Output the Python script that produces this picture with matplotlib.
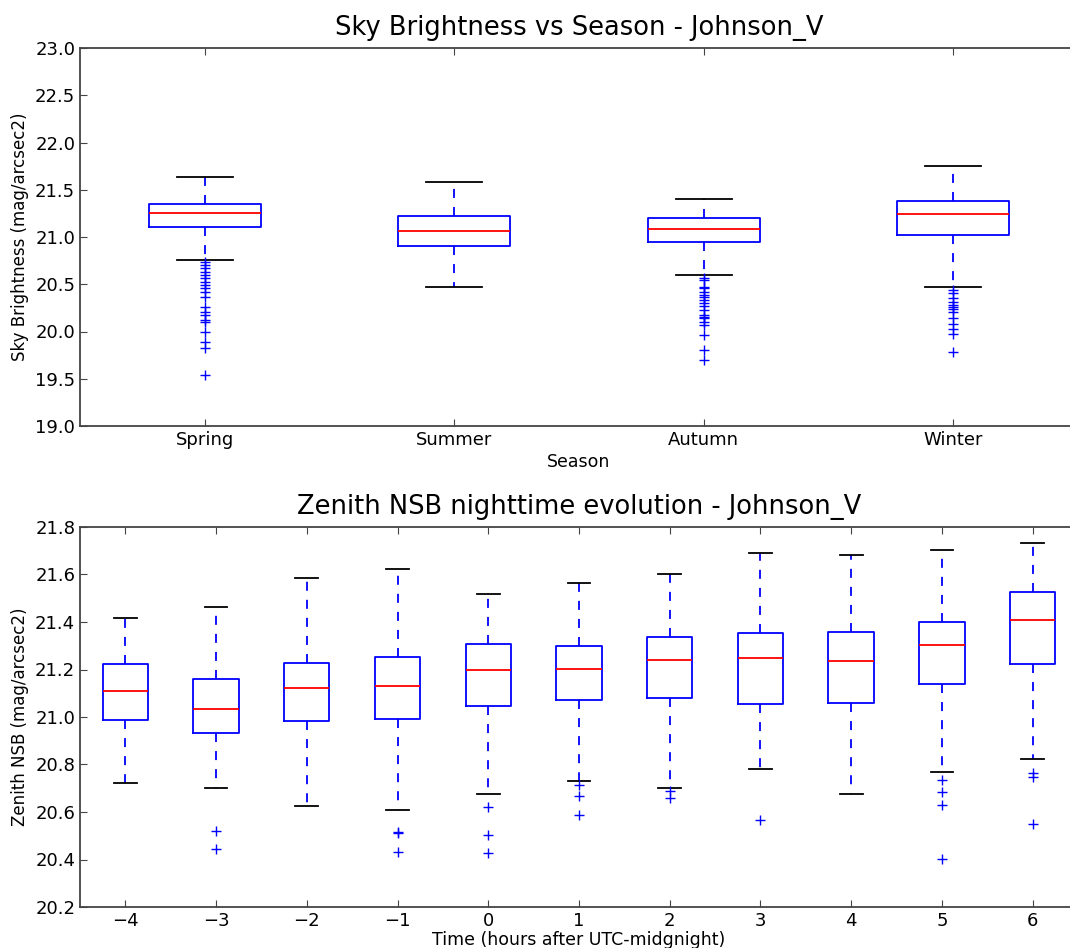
import matplotlib
matplotlib.use("Agg")
import matplotlib.pyplot as plt

# season panel
seasons = ["Spring", "Summer", "Autumn", "Winter"]
s_lo = [20.757, 20.471, 20.598, 20.474]
s_q1 = [21.106, 20.905, 20.950, 21.018]
s_med = [21.254, 21.063, 21.085, 21.243]
s_q3 = [21.350, 21.222, 21.198, 21.385]
s_hi = [21.635, 21.582, 21.402, 21.748]
s_out = [
    [20.739, 20.704, 20.672, 20.633, 20.598, 20.566, 20.527, 20.492, 20.460,
     20.421, 20.368, 20.262, 20.210, 20.175, 20.122, 20.104, 19.998, 19.892,
     19.822, 19.540],
    [],
    [20.569, 20.545, 20.474, 20.457, 20.421, 20.386, 20.368, 20.333, 20.298,
     20.270, 20.228, 20.175, 20.157, 20.140, 20.104, 20.069, 19.963, 19.804,
     19.698],
    [20.439, 20.404, 20.351, 20.316, 20.280, 20.263, 20.235, 20.210, 20.140,
     20.079, 20.026, 19.974, 19.780],
]

# hour panel
hours = [-4, -3, -2, -1, 0, 1, 2, 3, 4, 5, 6]
h_lo = [20.721, 20.702, 20.625, 20.608, 20.676, 20.731, 20.702, 20.780, 20.676, 20.767, 20.824]
h_q1 = [20.987, 20.934, 20.983, 20.993, 21.048, 21.070, 21.079, 21.056, 21.060, 21.138, 21.223]
h_med = [21.111, 21.034, 21.123, 21.132, 21.197, 21.202, 21.241, 21.247, 21.237, 21.305, 21.408]
h_q3 = [21.223, 21.160, 21.226, 21.254, 21.309, 21.300, 21.336, 21.355, 21.359, 21.400, 21.525]
h_hi = [21.418, 21.463, 21.584, 21.622, 21.518, 21.563, 21.604, 21.689, 21.681, 21.703, 21.734]
h_out = [
    [],
    [20.521, 20.444],
    [],
    [20.517, 20.510, 20.430],
    [20.621, 20.503, 20.426],
    [20.714, 20.669, 20.587],
    [20.690, 20.658],
    [20.566],
    [],
    [20.735, 20.684, 20.629, 20.401],
    [20.763, 20.746, 20.548],
]


def make_stats(lo, q1, med, q3, hi, out):
    return [dict(whislo=a, q1=b, med=c, q3=d, whishi=e, fliers=f)
            for a, b, c, d, e, f in zip(lo, q1, med, q3, hi, out)]


def draw(ax, stats, w):
    ax.bxp(stats, widths=w, showfliers=True,
           boxprops=dict(color="blue", lw=1.3),
           whiskerprops=dict(color="blue", lw=1.3, linestyle=(0, (5, 5))),
           capprops=dict(color="black", lw=1.3),
           medianprops=dict(color="red", lw=1.3),
           flierprops=dict(marker="+", markeredgecolor="blue", markersize=7,
                           markeredgewidth=1.0, linestyle="none"))
    ax.tick_params(direction="in", top=True, right=True, labelsize=13,
                   length=5, color="#444444")
    for sp in ax.spines.values():
        sp.set_color("#444444")
        sp.set_linewidth(1.3)


fig = plt.figure(figsize=(10.70, 9.48), dpi=100)
W, H = 1070.0, 948.0

ax1 = fig.add_axes([80 / W, 1 - 426 / H, 998 / W, 378 / H])
draw(ax1, make_stats(s_lo, s_q1, s_med, s_q3, s_hi, s_out), 0.45)
ax1.set_xticklabels(seasons)
ax1.set_xlim(0.5, 4.5)
ax1.set_ylim(19.0, 23.0)
ax1.set_yticks([19.0, 19.5, 20.0, 20.5, 21.0, 21.5, 22.0, 22.5, 23.0])
ax1.set_yticklabels(["%.1f" % v for v in ax1.get_yticks()])
ax1.set_title("Sky Brightness vs Season - Johnson_V", fontsize=18.5, pad=9)
ax1.set_xlabel("Season", fontsize=12.5, labelpad=3)
ax1.set_ylabel("Sky Brightness (mag/arcsec2)", fontsize=12)

ax2 = fig.add_axes([80 / W, 1 - 907 / H, 998 / W, 380 / H])
draw(ax2, make_stats(h_lo, h_q1, h_med, h_q3, h_hi, h_out), 0.5)
ax2.set_xticklabels([str(h).replace("-", "\u2212") for h in hours])
ax2.set_xlim(0.5, 11.5)
ax2.set_ylim(20.2, 21.8)
ax2.set_yticks([20.2, 20.4, 20.6, 20.8, 21.0, 21.2, 21.4, 21.6, 21.8])
ax2.set_yticklabels(["%.1f" % v for v in ax2.get_yticks()])
ax2.set_title("Zenith NSB nighttime evolution - Johnson_V", fontsize=18.5, pad=9)
ax2.set_xlabel("Time (hours after UTC-midgnight)", fontsize=12.5, labelpad=1)
ax2.set_ylabel("Zenith NSB (mag/arcsec2)", fontsize=12)

fig.savefig("out.png", dpi=100)
